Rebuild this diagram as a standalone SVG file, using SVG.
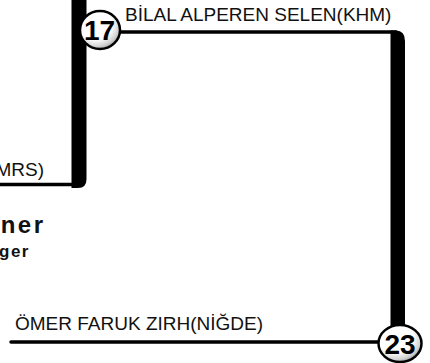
<svg xmlns="http://www.w3.org/2000/svg" width="430" height="363" viewBox="0 0 430 363">
<defs>
<radialGradient id="ball" cx="0.4" cy="0.35" r="0.7" fx="0.35" fy="0.3">
<stop offset="0" stop-color="#ffffff"/>
<stop offset="0.6" stop-color="#ffffff"/>
<stop offset="0.85" stop-color="#d0d0d0"/>
<stop offset="1" stop-color="#8a8a8a"/>
</radialGradient>
<style>
.lbl{font-family:"Liberation Sans",Arial,sans-serif;font-size:19px;fill:#111}
.num{font-family:"Liberation Sans",Arial,sans-serif;font-size:28px;font-weight:bold;fill:#000;text-anchor:middle}
.thin{stroke:#000;stroke-width:3.5;fill:none;stroke-linecap:round}
.bar{fill:#000}
.ball{fill:url(#ball);stroke:#000;stroke-width:2.5}
.title{font-family:"Liberation Sans",Arial,sans-serif;font-weight:bold;fill:#111;text-anchor:end}
</style>
</defs>
<rect width="430" height="363" fill="#fff"/>
<g id="connectors">
<line class="thin" x1="-2" y1="184.5" x2="80" y2="184.5"/>
<path class="bar" d="M71.5,0 L86.5,0 L86.5,179 Q86.5,188 78,188 L71.5,188 Z"/>
<line class="thin" x1="118" y1="32" x2="396" y2="32"/>
<path class="bar" d="M390.5,345 L390.5,30.5 L396,30.5 Q405,30.5 405,41 L405,345 Z"/>
<line class="thin" x1="11" y1="342" x2="382" y2="342"/>
</g>
<g id="label-mrs"><text class="lbl" x="44" y="176" text-anchor="end">MRS)</text></g>
<g id="node-17">
<ellipse class="ball" cx="100" cy="30" rx="20" ry="19"/>
<text class="num" x="99.5" y="40">17</text>
</g>
<g id="label-bilal"><text class="lbl" x="125" y="21">BİLAL ALPEREN SELEN(KHM)</text></g>
<g id="title">
<text class="title" x="45.5" y="233" font-size="24" letter-spacing="2.5">ner</text>
<text class="title" x="30" y="257" font-size="17" letter-spacing="1.5">ger</text>
</g>
<g id="label-omer"><text class="lbl" x="15" y="330">ÖMER FARUK ZIRH(NİĞDE)</text></g>
<g id="node-23">
<ellipse class="ball" cx="400" cy="343.5" rx="21.5" ry="18.5"/>
<text class="num" x="400" y="353.5">23</text>
</g>
</svg>
